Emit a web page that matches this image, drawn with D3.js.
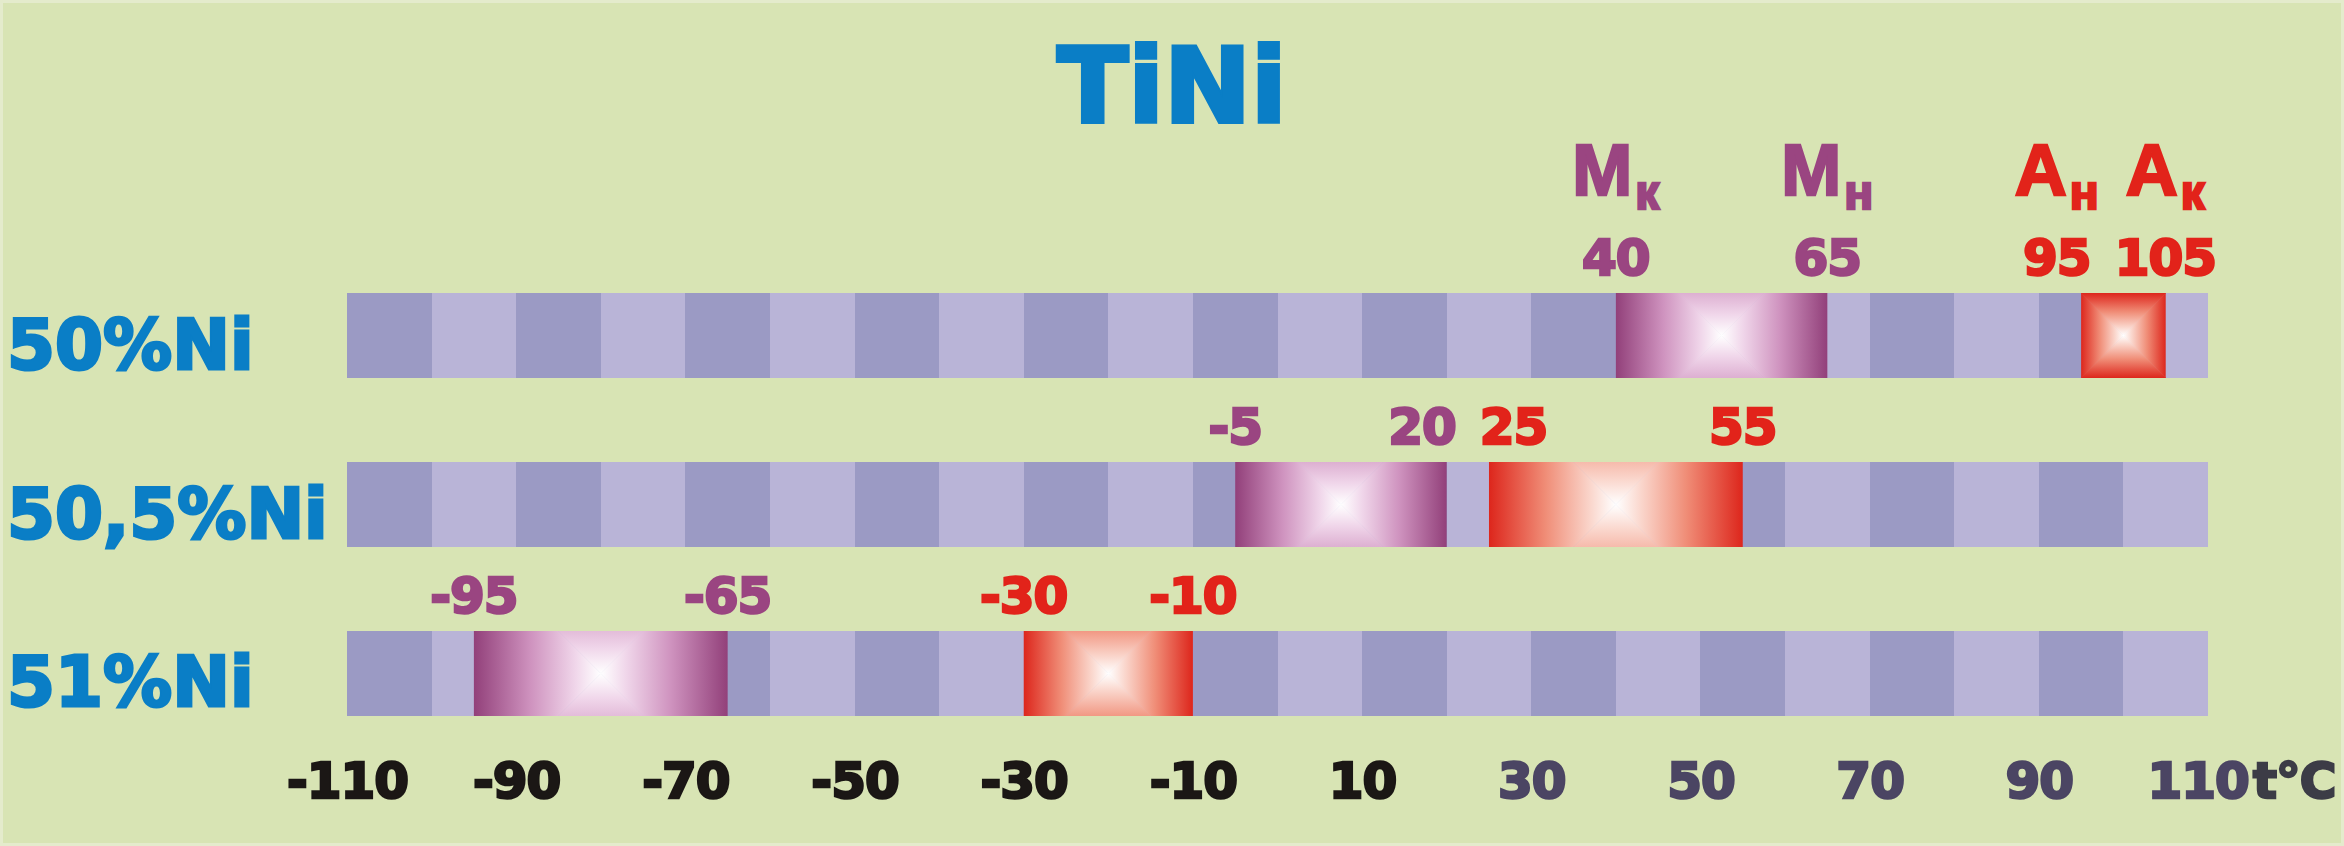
<!DOCTYPE html>
<html>
<head>
<meta charset="utf-8">
<script src="https://cdn.jsdelivr.net/npm/d3@7"></script>
<style>
  html, body { margin: 0; padding: 0; background: #d8e4b4; }
  svg { display: block; }
</style>
</head>
<body>
<svg id="chart" width="2344" height="846"></svg>
<script>
// ---------- data ----------
const title = "TiNi";
const rows = ["50%Ni", "50,5%Ni", "51%Ni"];
// martensite interval (Mк .. Mн) per alloy
const martStart = [40, -5, -95];
const martEnd   = [65, 20, -65];
// austenite interval (Ан .. Ак) per alloy
const austStart = [95, 25, -30];
const austEnd   = [105, 55, -10];
// phase symbols shown above the first alloy
const symbolMain = ["М", "М", "А", "А"];
const symbolSub  = ["к", "н", "н", "к"];
const tickValues = [-110, -90, -70, -50, -30, -10, 10, 30, 50, 70, 90, 110];
const domain = [-110, 110];
const segmentStep = 10;
const unitLabel = "t°C";

// ---------- setup ----------
const W = 2344, H = 846;
const svg = d3.select("#chart");
const defs = svg.append("defs");

const C = {
  bg: "#d8e4b4", border: "#e4ebcc",
  dark: "#9b9ac4", light: "#b9b4d7",
  blue: "#0a7ec6", purple: "#9a4581", red: "#e2231a",
  tickDark: "#1b1715", tickMuted: "#4b4563", unit: "#3c3c46"
};
const FONT = "'DejaVu Sans', sans-serif";
const FONT2 = "'Liberation Sans', Arial, sans-serif";

function heavy(sel, w) {
  return sel.attr("stroke", function () { return d3.select(this).attr("fill"); })
    .attr("stroke-width", w).attr("stroke-linejoin", "miter").attr("stroke-miterlimit", 3)
    .attr("paint-order", "stroke");
}

const x = d3.scaleLinear().domain(domain).range([347, 2208]);
const y = d3.scaleBand().domain(rows).range([293, 293 + 2 * 169 + 85]).paddingInner(0.497).paddingOuter(0);

svg.append("rect").attr("width", W).attr("height", H).attr("fill", C.bg);
svg.append("rect").attr("x", 1.5).attr("y", 1.5).attr("width", W - 3).attr("height", H - 3)
  .attr("fill", "none").attr("stroke", C.border).attr("stroke-width", 3);

// title
heavy(svg.append("text").attr("x", 1172).attr("y", 122).attr("text-anchor", "middle")
  .attr("font-family", FONT).attr("font-weight", "bold").attr("font-size", 104)
  .attr("fill", C.blue).text(title), 4);

// row labels
heavy(svg.append("g").selectAll("text").data(rows).join("text")
  .attr("x", 7).attr("y", d => y(d) + y.bandwidth() / 2 + 33)
  .attr("font-family", FONT).attr("font-weight", "bold").attr("font-size", 69)
  .attr("fill", C.blue).text(d => d), 3);

// striped bars
const segStarts = d3.range(domain[0], domain[1], segmentStep);
const barG = svg.append("g");
rows.forEach(r => {
  barG.append("g").selectAll("rect").data(segStarts).join("rect")
    .attr("x", d => x(d)).attr("y", y(r))
    .attr("width", d => x(d + segmentStep) - x(d)).attr("height", y.bandwidth())
    .attr("fill", (d, i) => i % 2 === 0 ? C.dark : C.light)
    .attr("shape-rendering", "crispEdges");
});

// gradient boxes (square fountain fill)
const stopsFor = {
  purple: [[0, "#92407a"], [0.45, "#cf93bf"], [0.8, "#f0d6ea"], [1, "#ffffff"]],
  red: [[0, "#dd261c"], [0.45, "#f08e78"], [0.8, "#fad6cc"], [1, "#ffffff"]]
};
let gid = 0;
function box(row, a, b, kind) {
  const x0 = x(a), x1 = x(b), y0 = y(row), h = y.bandwidth();
  const cx = (x0 + x1) / 2, cy = y0 + h / 2;
  const R = Math.max((x1 - x0) / 2, h / 2), L = R * 2;
  const id = "b" + (gid++);
  defs.append("clipPath").attr("id", id + "c").append("rect")
    .attr("x", x0).attr("y", y0).attr("width", x1 - x0).attr("height", h);
  const g = svg.append("g").attr("clip-path", `url(#${id}c)`);
  const parts = [
    { pts: [[cx, cy], [cx - L, cy - L], [cx - L, cy + L]], g: [cx - R, cy, cx, cy] },
    { pts: [[cx, cy], [cx + L, cy - L], [cx + L, cy + L]], g: [cx + R, cy, cx, cy] },
    { pts: [[cx, cy], [cx - L, cy - L], [cx + L, cy - L]], g: [cx, cy - R, cx, cy] },
    { pts: [[cx, cy], [cx - L, cy + L], [cx + L, cy + L]], g: [cx, cy + R, cx, cy] }
  ];
  parts.forEach((p, i) => {
    const lg = defs.append("linearGradient").attr("id", id + "g" + i)
      .attr("gradientUnits", "userSpaceOnUse")
      .attr("x1", p.g[0]).attr("y1", p.g[1]).attr("x2", p.g[2]).attr("y2", p.g[3]);
    stopsFor[kind].forEach(s => lg.append("stop").attr("offset", s[0]).attr("stop-color", s[1]));
    g.append("polygon").attr("points", p.pts.map(q => q.join(",")).join(" "))
      .attr("fill", `url(#${id}g${i})`).attr("stroke", `url(#${id}g${i})`).attr("stroke-width", 0.6);
  });
}
rows.forEach((r, i) => {
  box(r, martStart[i], martEnd[i], "purple");
  box(r, austStart[i], austEnd[i], "red");
});

// value labels with simple collision avoidance
const labelG = svg.append("g");
const symbolPos = [];
rows.forEach((r, i) => {
  const items = [
    { v: martStart[i], c: C.purple }, { v: martEnd[i], c: C.purple },
    { v: austStart[i], c: C.red }, { v: austEnd[i], c: C.red }
  ];
  const texts = items.map(it => heavy(labelG.append("text")
    .attr("x", x(it.v)).attr("y", y(r) - 18).attr("text-anchor", "middle")
    .attr("font-family", FONT).attr("font-weight", "bold").attr("font-size", 50)
    .attr("letter-spacing", -1).attr("fill", it.c).text(it.v), 2.5));
  const info = texts.map((t, k) => ({ t, cx: x(items[k].v), w: t.node().getComputedTextLength() }));
  info.sort((p, q) => p.cx - q.cx);
  const gap = 24, maxRight = x(domain[1]) + 8;
  for (let k = 0; k < info.length - 1; k++) {
    const a = info[k], b = info[k + 1];
    const need = (a.w + b.w) / 2 + gap - (b.cx - a.cx);
    if (need > 0) {
      a.cx -= need / 2; b.cx += need / 2;
      const over = b.cx + b.w / 2 - maxRight;
      if (over > 0) { b.cx -= over; a.cx -= over; }
    }
  }
  info.forEach(o => o.t.attr("x", o.cx));
  if (i === 0) {
    texts.forEach((t, k) => symbolPos.push(+t.attr("x")));
  }
});

// phase symbols above first alloy
symbolMain.forEach((m, k) => {
  const t = svg.append("text").attr("x", symbolPos[k]).attr("y", 195).attr("text-anchor", "middle")
    .attr("font-family", FONT2).attr("font-weight", "bold").attr("font-size", 72)
    .attr("fill", k < 2 ? C.purple : C.red);
  heavy(t, 2.5);
  t.append("tspan").text(m);
  t.append("tspan").attr("dy", 14).attr("dx", 3).attr("font-size", 48).text(symbolSub[k]);
});

// axis
const axis = d3.axisBottom(x).tickValues(tickValues).tickSize(0).tickPadding(0).tickFormat(d => d);
const ag = svg.append("g").attr("transform", "translate(0,798)").call(axis);
ag.select(".domain").remove();
ag.selectAll("text")
  .attr("y", 0).attr("dy", 0)
  .attr("font-family", FONT).attr("font-weight", "bold").attr("font-size", 50)
  .attr("letter-spacing", -1)
  .attr("fill", d => d <= 10 ? C.tickDark : C.tickMuted)
  .each(function () { heavy(d3.select(this), 2.5); });
const lastTick = ag.selectAll(".tick").filter(d => d === domain[1]).select("text");
lastTick.append("tspan").attr("dx", 4).attr("fill", C.unit).attr("stroke", C.unit).text(unitLabel);
// the last label with its unit is pushed in against the right edge of the canvas
lastTick.attr("text-anchor", "end").attr("x", (W - 9) - x(domain[1]));
</script>
</body>
</html>
